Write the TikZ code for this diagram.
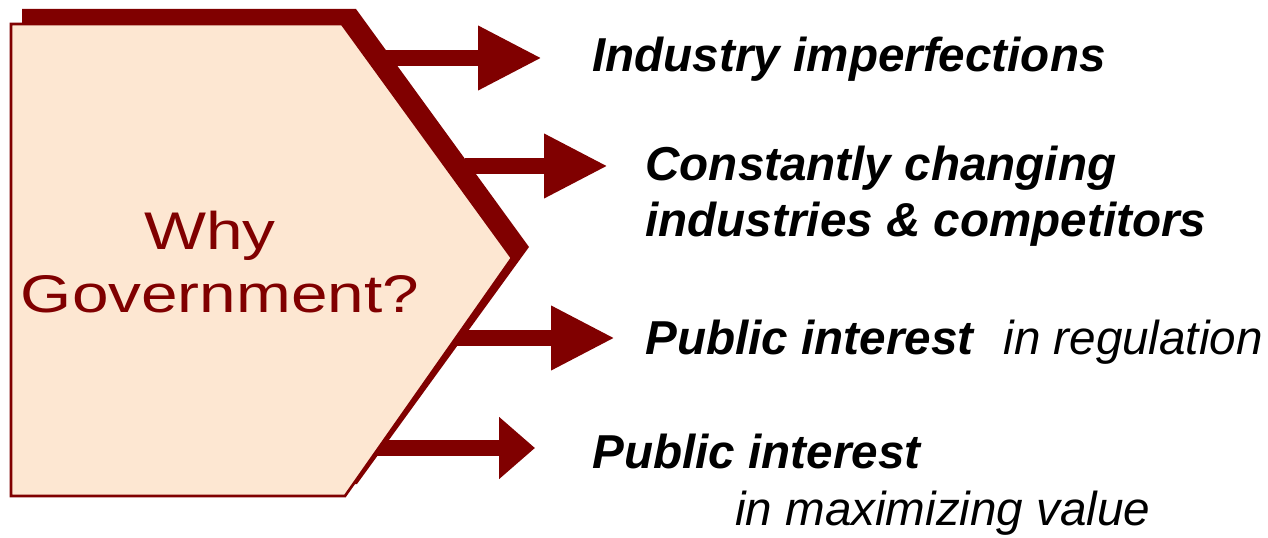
\documentclass[tikz,border=0pt]{standalone}
\usepackage{fontspec}
\setmainfont{Liberation Sans}
\usetikzlibrary{arrows.meta}
\definecolor{govred}{RGB}{128,0,0}
\definecolor{govfill}{RGB}{253,231,210}

\tikzset{every picture/.style={line width=0.75pt}}
\tikzset{
  bigarrow/.style={draw=govred, line width=12pt, -{Triangle[length=#1,width=45pt]}},
  bigarrow/.default=48pt,
  reason/.style={anchor=base west, inner sep=0pt, align=left, font=\fontsize{35.7}{42.5}\selectfont\bfseries\itshape},
  govtext/.style={anchor=base, inner sep=0pt, text=govred, font=\fontsize{39.75}{47}\selectfont}
}

\begin{document}
\begin{tikzpicture}[x=0.75pt,y=0.75pt,yscale=-1,xscale=1]
\useasboundingbox (0,0) rectangle (1268,538);

%Shape: Shadow
\fill[govred] (22,9) -- (356,9) -- (529,247) -- (357,484) -- (22,484) -- cycle;

% arrow ends
\coordinate (s1) at (385,58);
\coordinate (e1) at (542,58);
\coordinate (s2) at (465,166);
\coordinate (e2) at (608,166);
\coordinate (s3) at (450,338);
\coordinate (e3) at (615,338);
\coordinate (s4) at (372,448);
\coordinate (e4) at (535,448);

%Shape: Arrows
\draw[bigarrow] (s1) -- (e1);
\draw[bigarrow] (s2) -- (e2);
\draw[bigarrow] (s3) -- (e3);
\draw[bigarrow=27pt] (s4) -- (e4);

%Shape: Pentagon
\draw[govred, fill=govfill, line width=2pt] (11,24) -- (342,24) -- (512,258) -- (345,496) -- (11,496) -- cycle;

% Text Node
\node[govtext] (why) at (210,250) {\scalebox{1.24}[1]{Why}};
% Text Node
\node[govtext] (govt) at (220,313) {\scalebox{1.24}[1]{Government?}};
% Text Node
\node[reason] (imperf) at (592,72) {Industry imperfections};
% Text Node
\node[reason] (changing) at (645,237) {Constantly changing\\industries \& competitors};
% Text Node
\node[reason] (regul) at (645,355) {Public interest\hspace{22.5pt}{\mdseries in regulation}};
% Text Node
\node[reason] (maxval) at (592,525) {Public interest\\\hspace*{107pt}{\mdseries in maximizing value}};
\end{tikzpicture}
\end{document}
